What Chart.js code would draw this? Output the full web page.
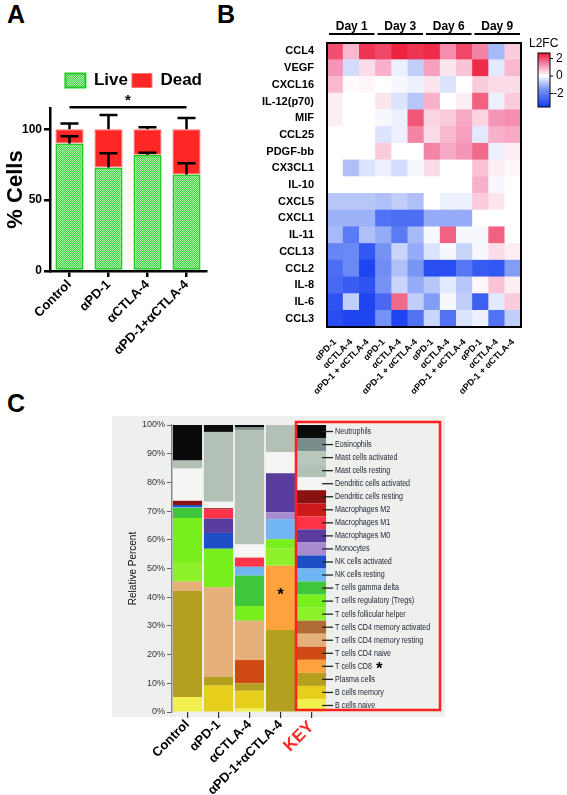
<!DOCTYPE html>
<html>
<head>
<meta charset="utf-8">
<script src="https://cdn.jsdelivr.net/npm/chart.js@4.4.1/dist/chart.umd.min.js"></script>
<style>
body{margin:0;background:#fff;width:567px;height:795px;position:relative;overflow:hidden;font-family:Arial,"Liberation Sans",sans-serif}
canvas{position:absolute}
.panel{position:absolute;font:bold 25px Arial,"Liberation Sans",sans-serif;color:#000}
</style>
</head>
<body>
<div class="panel" style="left:7px;top:0px">A</div>
<div class="panel" style="left:217px;top:0px">B</div>
<div class="panel" style="left:7px;top:389px">C</div>
<canvas id="chartA" width="264" height="390" style="left:0;top:0"></canvas>
<canvas id="chartB" width="352" height="400" style="left:215px;top:0"></canvas>
<canvas id="chartC" width="567" height="405" style="left:0;top:390px"></canvas>
<script>
// ---------- panel A data ----------
const groupsA = ['Control', 'αPD-1', 'αCTLA-4', 'αPD-1+αCTLA-4']
const liveMean = [90, 73, 82, 68]
const deadMean = [10, 27, 18, 32]
const liveErr = [5, 10, 1.5, 8]
const totalErr = [4, 10, 1.5, 8]
const sigLevel = 115.5

// ---------- panel B data ----------
const heatRows = ['CCL4', 'VEGF', 'CXCL16', 'IL-12(p70)', 'MIF', 'CCL25', 'PDGF-bb', 'CX3CL1', 'IL-10',
  'CXCL5', 'CXCL1', 'IL-11', 'CCL13', 'CCL2', 'IL-8', 'IL-6', 'CCL3']
const heatCols = ['αPD-1', 'αCTLA-4', 'αPD-1 + αCTLA-4', 'αPD-1', 'αCTLA-4', 'αPD-1 + αCTLA-4',
  'αPD-1', 'αCTLA-4', 'αPD-1 + αCTLA-4', 'αPD-1', 'αCTLA-4', 'αPD-1 + αCTLA-4']
const days = ['Day 1', 'Day 3', 'Day 6', 'Day 9']
const l2fc = [
  [2.0, 0.8, 2.3, 2.1, 2.5, 2.3, 2.4, 1.3, 2.1, 1.4, -1.0, 0.6],
  [1.2, -0.5, 0.4, 0.9, -0.2, -0.7, 1.1, 0.3, 0.7, 2.4, -0.3, 0.8],
  [0.8, 0.05, 0.1, 0, -0.1, -0.2, 0.3, -0.4, 0, 0.6, 0.4, 0.4],
  [0.2, 0, 0, 0.3, -0.4, -0.8, 0.9, 0, 0.2, 1.8, -0.2, 0.6],
  [0.2, 0, 0, -0.1, -0.2, 1.9, 0.5, 0.6, 1.0, 0.5, 1.2, 1.3],
  [0, 0, 0, -0.4, -0.2, 1.4, 0.4, 0.8, 1.1, -0.3, 0.9, 1.0],
  [0, 0, 0, 0.6, 0, 0, 1.4, 1.0, 1.2, 1.7, -0.2, 0.2],
  [0, -0.9, -0.4, -0.2, -0.5, -0.1, 0.4, 0, 0, 0.7, 0.2, 0.1],
  [0, 0, 0, 0, 0, 0, 0, 0, 0, 0.9, -0.1, 0],
  [-0.8, -0.8, -0.8, -0.9, -0.7, -0.9, 0, -0.2, -0.2, 0.6, 0.3, 0],
  [-1.1, -1.1, -1.1, -2.3, -2.4, -2.4, -1.2, -1.2, -1.2, 0, 0, 0],
  [-1.0, -2.1, -0.9, -1.2, -2.1, -1.0, -0.1, 1.8, -0.1, -0.1, 1.8, 0],
  [-1.9, -1.8, -2.9, -1.6, -0.6, -1.2, -0.4, -0.1, -0.6, -0.1, 0.4, 0.2],
  [-2.4, -1.8, -3.3, -1.7, -0.9, -1.5, -3.1, -3.1, -2.2, -2.8, -2.9, -1.4],
  [-2.5, -2.8, -3.0, -1.6, -0.6, -1.2, -0.8, -0.3, -0.8, 0.1, 0.7, 0.2],
  [-3.0, -0.7, -3.3, -2.5, 1.7, -0.7, -1.4, -0.1, -0.7, -2.7, -0.3, 0.6],
  [-3.1, -3.3, -3.3, -1.6, -3.3, -2.3, -0.6, -2.3, -0.4, -0.2, -2.3, -0.7]
]
const cbTicks = [2, 0, -2]

// ---------- panel C data ----------
const groupsC = ['Control', 'αPD-1', 'αCTLA-4', 'αPD-1+αCTLA-4', 'KEY']
// bottom -> top
const cellTypes = ['B cells naive', 'B cells memory', 'Plasma cells', 'T cells CD8', 'T cells CD4 naive',
  'T cells CD4 memory resting', 'T cells CD4 memory activated', 'T cells follicular helper',
  'T cells regulatory (Tregs)', 'T cells gamma delta', 'NK cells resting', 'NK cells activated',
  'Monocytes', 'Macrophages M0', 'Macrophages M1', 'Macrophages M2', 'Dendritic cells resting',
  'Dendritic cells activated', 'Mast cells resting', 'Mast cells activated', 'Eosinophils', 'Neutrophils']
const controlPct = [5.2, 0, 37.0, 0, 0, 3.2, 0, 6.9, 15.3, 3.5, 0.3, 0.7, 0, 0, 0, 0, 1.5, 11.2, 2.8, 0, 0, 12.4]
const aPD1Pct = [0, 9.2, 3.0, 0, 0, 31.3, 0, 0, 13.4, 0, 0, 5.5, 0, 5.0, 3.3, 0, 0.3, 2.3, 24.3, 0, 0, 2.4]
const aCTLA4Pct = [1.2, 6.2, 2.6, 0, 8.1, 13.7, 0, 0, 5.1, 10.6, 3.1, 0, 0, 0, 3.2, 0, 0, 4.6, 39.9, 0, 1.0, 0.7]
const comboPct = [0, 0, 28.6, 22.4, 0, 0, 0, 6.0, 3.2, 0, 7.0, 0, 2.4, 13.6, 0, 0, 0, 7.3, 9.5, 0, 0, 0]
const cellColors = ['#f2f04e', '#e6cf1a', '#b59f1e', '#ffa23e', '#cf4a12', '#e6b07a', '#b06c36', '#8ef02a',
  '#78ee1c', '#3fc63a', '#70b6f2', '#1f4ec6', '#a98bd0', '#5a3c9e', '#ff3448', '#cc1a1a', '#8a1212',
  '#f5f5f3', '#b2c0b6', '#b8c6bc', '#7a8c8c', '#0a0a0a']

const FONT = 'Arial, "Liberation Sans", sans-serif'
Chart.defaults.font.family = FONT
Chart.defaults.animation = false
Chart.defaults.plugins.tooltip.enabled = false

// ================= Panel A =================
function checker() {
  const c = document.createElement('canvas')
  c.width = c.height = 2
  const g = c.getContext('2d')
  g.fillStyle = '#3ad23a'
  g.fillRect(0, 0, 2, 2)
  g.fillStyle = '#b6f0b6'
  g.fillRect(0, 0, 1, 1)
  g.fillRect(1, 1, 1, 1)
  return g.createPattern(c, 'repeat')
}

const errorBars = {
  id: 'errorBars',
  afterDatasetsDraw(chart) {
    const ctx = chart.ctx, y = chart.scales.y
    const bars = chart.getDatasetMeta(0).data
    ctx.save()
    ctx.strokeStyle = '#000'
    ctx.lineWidth = 2.5
    bars.forEach((bar, i) => {
      [[liveMean[i], liveErr[i]], [liveMean[i] + deadMean[i], totalErr[i]]].forEach(([m, e]) => {
        const y0 = y.getPixelForValue(m), y1 = y.getPixelForValue(m + e)
        ctx.beginPath()
        ctx.moveTo(bar.x, y0); ctx.lineTo(bar.x, y1)
        ctx.moveTo(bar.x - 9, y1); ctx.lineTo(bar.x + 9, y1)
        ctx.stroke()
      })
    })
    // significance bar
    const ys = y.getPixelForValue(sigLevel)
    const x0 = bars[0].x, x1 = bars[3].x
    ctx.beginPath()
    ctx.moveTo(x0, ys); ctx.lineTo(x1, ys)
    ctx.stroke()
    ctx.fillStyle = '#000'
    ctx.font = 'bold 15px ' + FONT
    ctx.textAlign = 'center'
    ctx.textBaseline = 'middle'
    ctx.fillText('*', (x0 + x1) / 2, ys - 6)
    ctx.restore()
  }
}

new Chart(document.getElementById('chartA'), {
  type: 'bar',
  data: {
    labels: groupsA,
    datasets: [{
      label: 'Live',
      data: liveMean,
      backgroundColor: checker(),
      borderColor: '#22cc22',
      borderWidth: 2,
      borderSkipped: false
    }, {
      label: 'Dead',
      data: deadMean,
      backgroundColor: '#ff2626',
      borderColor: '#ff7070',
      borderWidth: 1,
      borderSkipped: false
    }]
  },
  options: {
    responsive: false,
    layout: { padding: { left: 0, right: 58, top: 68, bottom: 0 } },
    datasets: { bar: { barPercentage: 0.72, categoryPercentage: 1 } },
    plugins: {
      legend: {
        align: 'end',
        labels: { boxWidth: 20, boxHeight: 14, padding: 4, color: '#000', font: { size: 17, weight: 'bold' } }
      },
      // empty spacer between legend and plot
      subtitle: { display: true, text: '', weight: 500, font: { size: 5 }, padding: { top: 0, bottom: 3 } }
    },
    scales: {
      x: {
        stacked: true,
        grid: { drawOnChartArea: false, offset: false, color: '#000', lineWidth: 2.5, tickLength: 6 },
        border: { color: '#000', width: 2.5 },
        ticks: { color: '#000', autoSkip: false, minRotation: 45, maxRotation: 45, padding: 0, font: { size: 13, weight: 'bold' } },
        afterFit: s => { s.height = 119 }
      },
      y: {
        stacked: true,
        min: 0,
        max: 115,
        afterBuildTicks: s => { s.ticks = [0, 50, 100].map(v => ({ value: v })) },
        grid: { drawOnChartArea: false, color: '#000', lineWidth: 2.5, tickLength: 6 },
        border: { color: '#000', width: 2.5 },
        ticks: { color: '#000', padding: 2, font: { size: 12, weight: 'bold' } },
        title: { display: true, text: '% Cells', color: '#000', padding: 3, font: { size: 22, weight: 'bold' } },
        afterFit: s => { s.width = 50 }
      }
    }
  },
  plugins: [errorBars]
})

// ================= Panel B =================
const heatStops = [[-3.5, [20, 60, 240]], [-1.5, [122, 150, 245]], [0, [255, 255, 255]], [1.2, [245, 150, 185]], [2.65, [236, 22, 50]]]
function heatColor(v) {
  if (v <= heatStops[0][0]) return 'rgb(' + heatStops[0][1].join(',') + ')'
  for (let i = 1; i < heatStops.length; i++) {
    const [v1, c1] = heatStops[i]
    const [v0, c0] = heatStops[i - 1]
    if (v <= v1) {
      const t = (v - v0) / (v1 - v0)
      return 'rgb(' + c0.map((c, k) => Math.round(c + (c1[k] - c) * t)).join(',') + ')'
    }
  }
  return 'rgb(' + heatStops[heatStops.length - 1][1].join(',') + ')'
}

const heatDecor = {
  id: 'heatDecor',
  afterDraw(chart) {
    const ctx = chart.ctx, a = chart.chartArea, x = chart.scales.x
    ctx.save()
    // frame
    ctx.strokeStyle = '#000'
    ctx.lineWidth = 2
    ctx.strokeRect(a.left, a.top, a.right - a.left, a.bottom - a.top)
    // day headers
    ctx.fillStyle = '#000'
    ctx.font = 'bold 12px ' + FONT
    ctx.textAlign = 'center'
    ctx.textBaseline = 'alphabetic'
    const half = (x.getPixelForValue(1) - x.getPixelForValue(0)) / 2
    days.forEach((d, i) => {
      const l = x.getPixelForValue(i * 3) - half + 2
      const r = x.getPixelForValue(i * 3 + 2) + half - 1
      ctx.fillText(d, (l + r) / 2, 30)
      ctx.lineWidth = 2
      ctx.beginPath()
      ctx.moveTo(l, 34); ctx.lineTo(r, 34)
      ctx.stroke()
    })
    // colour bar
    const cbL = a.right + 17, cbW = 12, cbTop = 53, cbBot = 107, zero = 76, perUnit = 8.75
    for (let py = cbTop; py < cbBot; py++) {
      ctx.fillStyle = heatColor((zero - py - 0.5) / perUnit)
      ctx.fillRect(cbL, py, cbW, 1)
    }
    ctx.lineWidth = 1
    ctx.strokeRect(cbL, cbTop, cbW, cbBot - cbTop)
    ctx.fillStyle = '#000'
    ctx.font = '12px ' + FONT
    ctx.textAlign = 'left'
    ctx.textBaseline = 'middle'
    ctx.fillText('L2FC', cbL - 9, 44)
    cbTicks.forEach(t => {
      const py = zero - t * perUnit
      ctx.beginPath()
      ctx.moveTo(cbL + cbW, py); ctx.lineTo(cbL + cbW + 3, py)
      ctx.stroke()
      ctx.fillText(String(t), cbL + cbW + (t < 0 ? 3 : 6), py)
    })
    ctx.restore()
  }
}

new Chart(document.getElementById('chartB'), {
  type: 'bar',
  data: {
    labels: heatCols,
    datasets: heatRows.slice().reverse().map(name => ({
      label: name,
      data: heatCols.map(() => 1),
      backgroundColor: l2fc[heatRows.indexOf(name)].map(heatColor),
      borderWidth: 0
    }))
  },
  options: {
    responsive: false,
    layout: { padding: { left: 0, right: 46, top: 43, bottom: 0 } },
    datasets: { bar: { barPercentage: 1, categoryPercentage: 1 } },
    plugins: { legend: { display: false } },
    scales: {
      x: {
        stacked: true,
        grid: { display: false },
        border: { display: false },
        ticks: { color: '#000', autoSkip: false, minRotation: 45, maxRotation: 45, padding: 2, font: { size: 9, weight: 'bold' } },
        afterFit: s => { s.height = 73 }
      },
      y: {
        stacked: true,
        min: 0,
        max: heatRows.length,
        afterBuildTicks: s => { s.ticks = heatRows.map((_, i) => ({ value: i + 0.5 })) },
        grid: { display: false },
        border: { display: false },
        ticks: {
          color: '#000', padding: 5, font: { size: 11, weight: 'bold' },
          callback: v => heatRows[heatRows.length - 1 - Math.floor(v)]
        },
        afterFit: s => { s.width = 112 }
      }
    }
  },
  plugins: [heatDecor]
})

// ================= Panel C =================
const keyShare = 100 / cellTypes.length

const cDecor = {
  id: 'cDecor',
  beforeDraw(chart) {
    const ctx = chart.ctx
    ctx.save()
    ctx.fillStyle = '#eef0ee'
    ctx.fillRect(112, 26, 333, 301)
    ctx.restore()
  },
  afterDraw(chart) {
    const ctx = chart.ctx, y = chart.scales.y
    const keyBar = chart.getDatasetMeta(0).data[4]
    const keyRight = keyBar.x + keyBar.width / 2
    ctx.save()
    ctx.textAlign = 'left'
    ctx.textBaseline = 'middle'
    cellTypes.forEach((name, k) => {
      const py = y.getPixelForValue((k + 0.5) * keyShare)
      ctx.strokeStyle = '#222'
      ctx.lineWidth = 1.3
      ctx.beginPath()
      ctx.moveTo(keyRight - 4, py); ctx.lineTo(keyRight + 7, py)
      ctx.stroke()
      // narrow label text, like the condensed key of the figure
      ctx.save()
      ctx.translate(keyRight + 9, py)
      ctx.scale(0.84, 1)
      ctx.font = '8.5px ' + FONT
      ctx.fillStyle = '#1c2030'
      ctx.fillText(name, 0, 0)
      const w = ctx.measureText(name).width * 0.84
      ctx.restore()
      if (name === 'T cells CD8') {
        ctx.font = 'bold 17px ' + FONT
        ctx.fillStyle = '#000'
        ctx.fillText('*', keyRight + 9 + w + 4, py + 3)
      }
    })
    // asterisk on the combination CD8 segment
    const seg = chart.getDatasetMeta(cellTypes.indexOf('T cells CD8')).data[3]
    ctx.font = 'bold 17px ' + FONT
    ctx.fillStyle = '#000'
    ctx.textAlign = 'center'
    ctx.fillText('*', seg.x, (seg.y + seg.base) / 2 - 2)
    // red key frame
    ctx.strokeStyle = '#ff2020'
    ctx.lineWidth = 2.5
    ctx.strokeRect(296, 32, 144, 288)
    ctx.restore()
  }
}

new Chart(document.getElementById('chartC'), {
  type: 'bar',
  data: {
    labels: groupsC,
    datasets: cellTypes.map((name, k) => ({
      label: name,
      data: [controlPct[k], aPD1Pct[k], aCTLA4Pct[k], comboPct[k], keyShare],
      backgroundColor: cellColors[k],
      borderWidth: 0
    }))
  },
  options: {
    responsive: false,
    layout: { padding: { left: 125, right: 240, top: 35, bottom: 0 } },
    datasets: { bar: { barPercentage: 0.94, categoryPercentage: 1 } },
    plugins: { legend: { display: false } },
    scales: {
      x: {
        stacked: true,
        grid: { drawOnChartArea: false, offset: false, color: '#333', lineWidth: 1.2, tickLength: 6 },
        border: { display: false },
        ticks: {
          autoSkip: false, minRotation: 45, maxRotation: 45, padding: -1,
          color: c => c.index === 4 ? '#ff2a2a' : '#000',
          font: c => ({ size: c.index === 4 ? 17 : 13, weight: 'bold' })
        },
        afterFit: s => { s.height = 83 }
      },
      y: {
        stacked: true,
        min: 0,
        max: 100,
        ticks: { stepSize: 10, color: '#333', padding: 2, font: { size: 9 }, callback: v => v + '%' },
        grid: { drawOnChartArea: false, color: '#666', lineWidth: 1, tickLength: 5 },
        border: { color: '#888', width: 1.5 },
        title: { display: true, text: 'Relative Percent', color: '#111', padding: 2, font: { size: 10 } },
        afterFit: s => { s.width = 47 }
      }
    }
  },
  plugins: [cDecor]
})
</script>
</body>
</html>
